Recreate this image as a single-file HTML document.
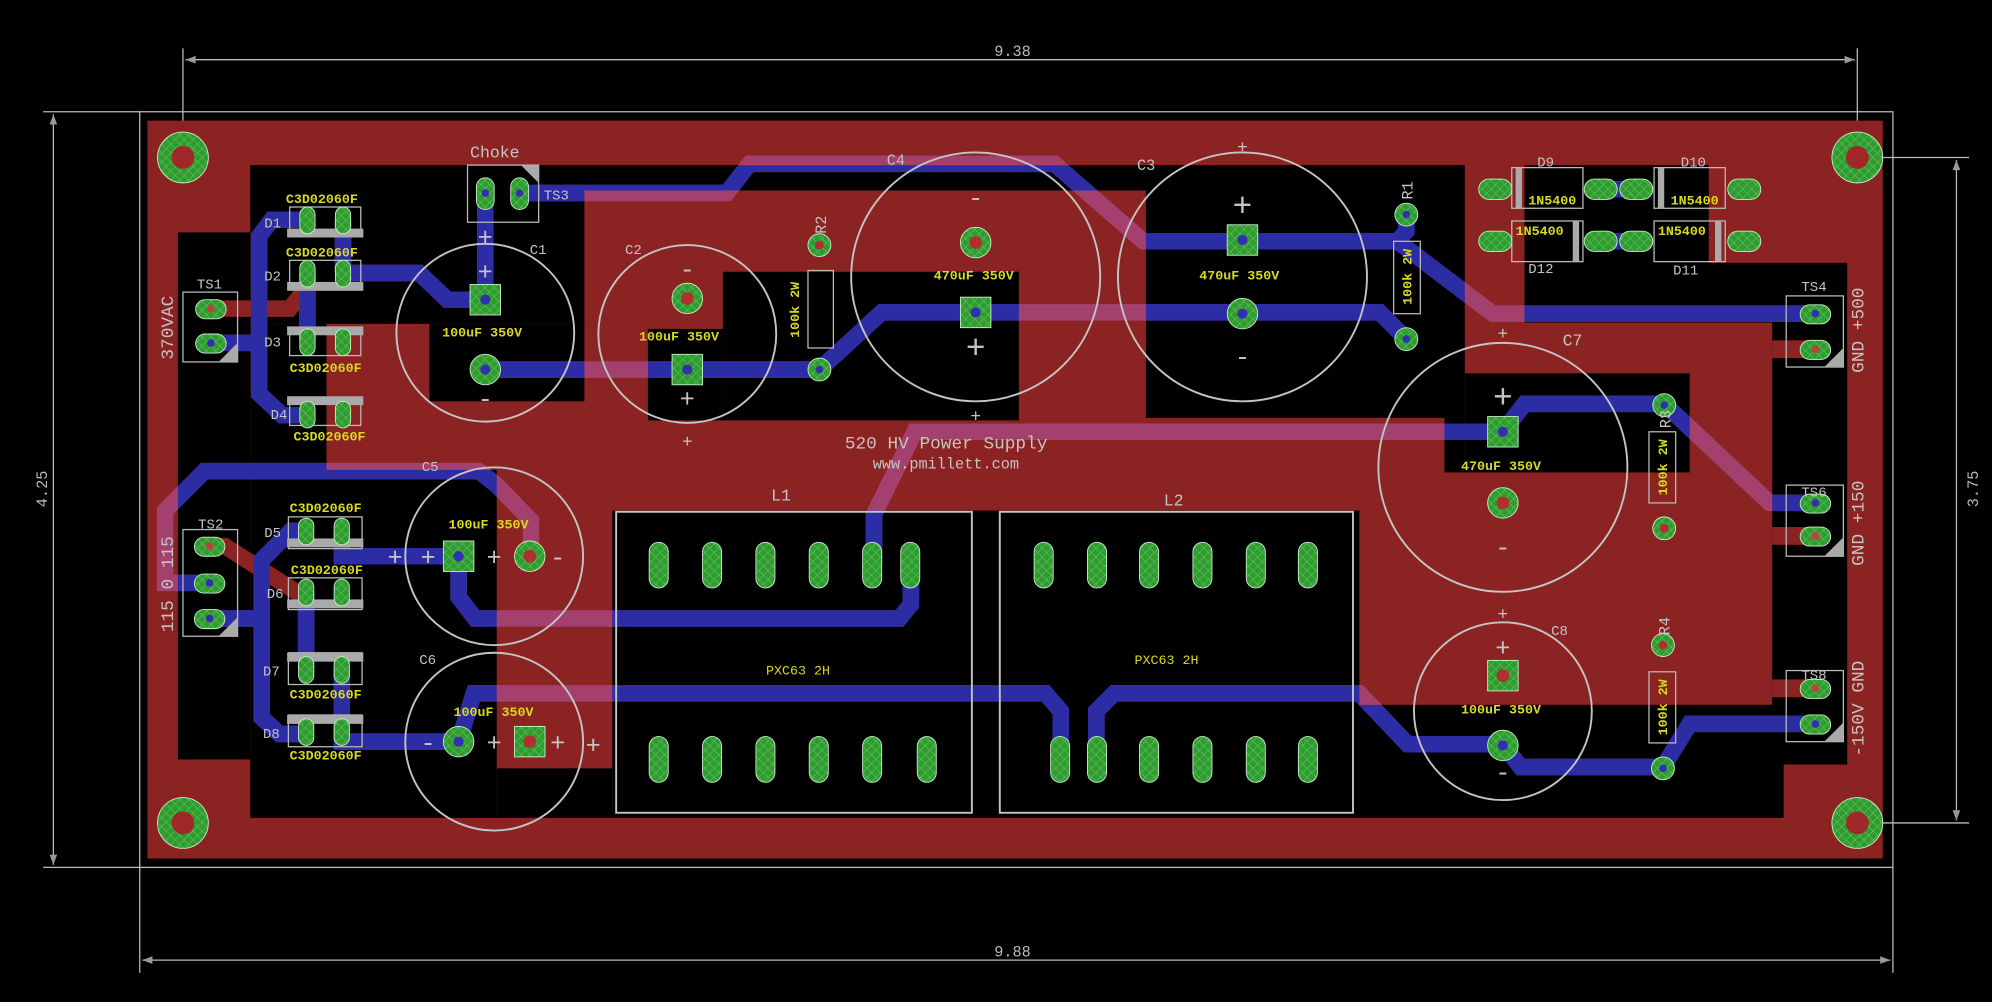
<!DOCTYPE html>
<html><head><meta charset="utf-8"><style>
html,body{margin:0;padding:0;background:#000;}
svg{display:block}
text{font-family:"Liberation Mono","DejaVu Sans Mono",monospace;}
.n{fill:#c4c4c4;font-size:13px}
.v{fill:#d8d820;font-size:10.5px;font-weight:bold}
.p{fill:url(#g);stroke:#c8f0c8;stroke-width:.7}
.o{fill:none;stroke:#c4c4c4;stroke-width:1.5}
.b{fill:none;stroke:#bbb;stroke-width:1}
.dim{stroke:#bbb;stroke-width:1;fill:none}
</style></head><body>
<svg width="1992" height="1002" viewBox="0 0 1568 789" preserveAspectRatio="none" xmlns="http://www.w3.org/2000/svg">
<defs>
<pattern id="g" width="5" height="5" patternUnits="userSpaceOnUse" patternTransform="rotate(45)">
<rect width="5" height="5" fill="#2f9c2f"/><line x1="0" y1="0" x2="0" y2="5" stroke="#6cc36c" stroke-width="0.8"/><line x1="0" y1="0" x2="5" y2="0" stroke="#6cc36c" stroke-width="0.8"/>
</pattern>
<clipPath id="cb">
<rect x="140" y="183" width="57" height="415"/><rect x="197" y="130" width="956" height="20"/><rect x="197" y="150" width="263" height="105"/><rect x="338" y="255" width="122" height="61"/><rect x="197" y="255" width="60" height="115"/><rect x="902" y="150" width="251" height="179"/><rect x="197" y="370" width="194" height="274"/><rect x="391" y="605" width="91" height="39"/><rect x="482" y="402" width="588" height="242"/><rect x="1070" y="555" width="334" height="89"/><rect x="1395" y="254" width="59" height="348"/><rect x="1200" y="207" width="254" height="47"/><rect x="1200" y="130" width="145" height="77"/><rect x="1153" y="294" width="177" height="78"/><rect x="1137" y="329" width="16" height="43"/><rect x="569" y="214" width="233" height="117"/><rect x="510" y="259" width="59" height="72"/>
</clipPath>
<g id="tr" fill="none" stroke-width="13" stroke-linejoin="miter">
<polyline points="409,152 572,152 590,129 830,129 900,190 1100,190 1107,182 1107,169"/>
<polyline points="1100,190 1175,247 1429,247"/>
<polyline points="645,291 694,246 1086,246 1107,267"/>
<polyline points="382,291 645,291"/>
<polyline points="382,152 382,236"/>
<polyline points="270,215 330,215 352,236 382,236"/>
<polyline points="270,173 270,215"/>
<polyline points="242,173 214,173 204,186 204,310 222,327 242,327"/>
<polyline points="166,270 204,270"/>
<polyline points="242,215 242,268"/>
<polyline points="165,459 130,459 130,402 161,371 377,371 391,382 418,410 418,438"/>
<polyline points="206,487 165,487"/>
<polyline points="241,418 229,418 206,441 206,565 220,578 241,578"/>
<polyline points="241,466 241,527"/>
<polyline points="269,418 269,438 361,438"/>
<polyline points="269,527 269,584 361,584"/>
<polyline points="361,438 361,470 374,487 708,487 717,476 717,445"/>
<polyline points="688,445 688,405 720,340 1183,340"/>
<polyline points="1183,340 1200,318 1310,318"/>
<polyline points="1310,318 1393,396 1429,396"/>
<polyline points="361,584 373,546 823,546 835,560 835,598"/>
<polyline points="863,598 863,560 877,546 1070,546 1108,586 1183,586 1197,604 1309,604 1330,570 1429,570"/>
<polyline points="1260,149 1288,149"/>
<polyline points="1260,190 1288,190"/>
</g>
</defs>
<rect width="1568" height="789" fill="#000"/>
<!-- dimensions -->
<g class="dim">
<line x1="144" y1="38" x2="144" y2="124"/><line x1="1462" y1="38" x2="1462" y2="124"/>
<line x1="146" y1="47" x2="1460" y2="47"/>
<line x1="110" y1="683" x2="110" y2="766"/><line x1="1490" y1="683" x2="1490" y2="766"/>
<line x1="112" y1="756" x2="1488" y2="756"/>
<line x1="34" y1="88" x2="110" y2="88"/><line x1="34" y1="683" x2="110" y2="683"/>
<line x1="42" y1="90" x2="42" y2="681"/>
<line x1="1462" y1="124" x2="1550" y2="124"/><line x1="1462" y1="648" x2="1550" y2="648"/>
<line x1="1540" y1="126" x2="1540" y2="646"/>
<rect x="110" y="88" width="1380" height="595"/>
</g>
<g fill="#999"><polygon points="146,47 154,44 154,50"/><polygon points="1460,47 1452,44 1452,50"/><polygon points="112,756 120,753 120,759"/><polygon points="1488,756 1480,753 1480,759"/><polygon points="42,90 39,98 45,98"/><polygon points="42,681 39,673 45,673"/><polygon points="1540,126 1537,134 1543,134"/><polygon points="1540,646 1537,638 1543,638"/></g>
<text x="797" y="44" fill="#bbb" font-size="12" text-anchor="middle" font-family="Liberation Sans">9.38</text>
<text x="797" y="753" fill="#bbb" font-size="12" text-anchor="middle" font-family="Liberation Sans">9.88</text>
<text transform="translate(37,385) rotate(-90)" fill="#bbb" font-size="12" text-anchor="middle" font-family="Liberation Sans">4.25</text>
<text transform="translate(1557,385) rotate(-90)" fill="#bbb" font-size="12" text-anchor="middle" font-family="Liberation Sans">3.75</text>
<!-- board copper -->
<rect x="116" y="95" width="1366" height="581" fill="#8c2323"/>
<g fill="#000">
<rect x="140" y="183" width="57" height="415"/><rect x="197" y="130" width="956" height="20"/><rect x="197" y="150" width="263" height="105"/><rect x="338" y="255" width="122" height="61"/><rect x="197" y="255" width="60" height="115"/><rect x="902" y="150" width="251" height="179"/><rect x="197" y="370" width="194" height="274"/><rect x="391" y="605" width="91" height="39"/><rect x="482" y="402" width="588" height="242"/><rect x="1070" y="555" width="334" height="89"/><rect x="1395" y="254" width="59" height="348"/><rect x="1200" y="207" width="254" height="47"/><rect x="1200" y="130" width="145" height="77"/><rect x="1153" y="294" width="177" height="78"/><rect x="1137" y="329" width="16" height="43"/><rect x="569" y="214" width="233" height="117"/><rect x="510" y="259" width="59" height="72"/>
</g>
<g fill="#8c2323"><rect x="1395" y="268" width="40" height="14"/><rect x="1395" y="415" width="40" height="14"/><rect x="1395" y="535" width="40" height="14"/></g>
<!-- top layer red traces -->
<g fill="none" stroke="#8c2323" stroke-width="13">
<polyline points="166,243 228,243 242,226 242,215"/>
<polyline points="165,430 177,430 233,466 241,466"/>
</g>
<!-- bottom traces -->
<use href="#tr" stroke="#a4406e"/>
<use href="#tr" stroke="#2c2ca4" clip-path="url(#cb)"/>
<!-- mount holes -->
<g>
<circle cx="144" cy="124" r="20" class="p"/><circle cx="144" cy="124" r="9" fill="#a02828"/>
<circle cx="1462" cy="124" r="20" class="p"/><circle cx="1462" cy="124" r="9" fill="#a02828"/>
<circle cx="144" cy="648" r="20" class="p"/><circle cx="144" cy="648" r="9" fill="#a02828"/>
<circle cx="1462" cy="648" r="20" class="p"/><circle cx="1462" cy="648" r="9" fill="#a02828"/>
</g>
<!-- capacitor outlines -->
<circle cx="382" cy="262" r="70" class="o"/>
<circle cx="541" cy="263" r="70" class="o"/>
<circle cx="768" cy="218" r="98" class="o"/>
<circle cx="978" cy="218" r="98" class="o"/>
<circle cx="1183" cy="368" r="98" class="o"/>
<circle cx="1183" cy="560" r="70" class="o"/>
<circle cx="389" cy="438" r="70" class="o"/>
<circle cx="389" cy="584" r="70" class="o"/>
<!-- L boxes -->
<rect x="485" y="403" width="280" height="237" class="o"/>
<rect x="787" y="403" width="278" height="237" class="o"/>
<!-- terminal boxes -->
<g class="b">
<rect x="144" y="230" width="43" height="55"/><rect x="144" y="417" width="43" height="84"/><rect x="368" y="130" width="56" height="45"/>
<rect x="1406" y="233" width="45" height="56"/><rect x="1406" y="382" width="45" height="56"/><rect x="1406" y="528" width="45" height="56"/>
<rect x="1097" y="190" width="21" height="57"/><rect x="636" y="213" width="20" height="61"/><rect x="1298" y="340" width="21" height="56"/><rect x="1298" y="529" width="21" height="56"/>
<rect x="1190" y="132" width="56" height="32"/><rect x="1302" y="132" width="56" height="32"/><rect x="1190" y="174" width="56" height="32"/><rect x="1302" y="174" width="56" height="32"/>
<rect x="228" y="163" width="56" height="21"/><rect x="228" y="205" width="56" height="21"/><rect x="228" y="259" width="56" height="21"/><rect x="228" y="314" width="56" height="21"/>
<rect x="227" y="407" width="58" height="25"/><rect x="227" y="455" width="58" height="25"/><rect x="227" y="514" width="58" height="25"/><rect x="227" y="563" width="58" height="25"/>
</g>
<g fill="#aaa">
<rect x="226" y="180" width="60" height="7"/><rect x="226" y="222" width="60" height="7"/><rect x="226" y="257" width="60" height="7"/><rect x="226" y="312" width="60" height="7"/>
<rect x="226" y="424" width="60" height="7"/><rect x="226" y="472" width="60" height="7"/><rect x="226" y="514" width="60" height="7"/><rect x="226" y="563" width="60" height="7"/>
<rect x="1193" y="132" width="5" height="32"/><rect x="1305" y="132" width="5" height="32"/><rect x="1238" y="174" width="5" height="32"/><rect x="1350" y="174" width="5" height="32"/>
<polygon points="187,270 187,285 172,285"/><polygon points="187,486 187,501 172,501"/><polygon points="424,130 424,144 410,130"/>
<polygon points="1451,274 1451,289 1436,289"/><polygon points="1451,423 1451,438 1436,438"/><polygon points="1451,569 1451,584 1436,584"/>
</g>
<!-- pads -->
<g>
<!-- TS pads -->
<rect x="154" y="236" width="24" height="15" rx="7.5" class="p"/><circle cx="166" cy="243" r="3" fill="#c04040"/>
<rect x="154" y="263" width="24" height="15" rx="7.5" class="p"/><circle cx="166" cy="270" r="3" fill="#3030b0"/>
<rect x="153" y="423" width="24" height="15" rx="7.5" class="p"/><circle cx="165" cy="430" r="3" fill="#c04040"/>
<rect x="153" y="452" width="24" height="15" rx="7.5" class="p"/><circle cx="165" cy="459" r="3" fill="#3030b0"/>
<rect x="153" y="480" width="24" height="15" rx="7.5" class="p"/><circle cx="165" cy="487" r="3" fill="#3030b0"/>
<rect x="1417" y="240" width="24" height="15" rx="7.5" class="p"/><circle cx="1429" cy="247" r="3" fill="#3030b0"/>
<rect x="1417" y="268" width="24" height="15" rx="7.5" class="p"/><circle cx="1429" cy="275" r="3" fill="#c04040"/>
<rect x="1417" y="389" width="24" height="15" rx="7.5" class="p"/><circle cx="1429" cy="396" r="3" fill="#3030b0"/>
<rect x="1417" y="415" width="24" height="15" rx="7.5" class="p"/><circle cx="1429" cy="422" r="3" fill="#c04040"/>
<rect x="1417" y="535" width="24" height="15" rx="7.5" class="p"/><circle cx="1429" cy="542" r="3" fill="#c04040"/>
<rect x="1417" y="563" width="24" height="15" rx="7.5" class="p"/><circle cx="1429" cy="570" r="3" fill="#3030b0"/>
<!-- TS3 -->
<rect x="375" y="140" width="14" height="25" rx="7" class="p"/><circle cx="382" cy="152" r="3" fill="#3030b0"/>
<rect x="402" y="140" width="14" height="25" rx="7" class="p"/><circle cx="409" cy="152" r="3" fill="#3030b0"/>
<!-- diode pads D1-D8 -->
<g fill="#3030b0">
<rect x="236" y="163" width="12" height="21" rx="6" class="p"/><rect x="264" y="163" width="12" height="21" rx="6" class="p"/>
<rect x="236" y="205" width="12" height="21" rx="6" class="p"/><rect x="264" y="205" width="12" height="21" rx="6" class="p"/>
<rect x="236" y="259" width="12" height="21" rx="6" class="p"/><rect x="264" y="259" width="12" height="21" rx="6" class="p"/>
<rect x="236" y="316" width="12" height="21" rx="6" class="p"/><rect x="264" y="316" width="12" height="21" rx="6" class="p"/>
<rect x="235" y="408" width="12" height="21" rx="6" class="p"/><rect x="263" y="408" width="12" height="21" rx="6" class="p"/>
<rect x="235" y="456" width="12" height="21" rx="6" class="p"/><rect x="263" y="456" width="12" height="21" rx="6" class="p"/>
<rect x="235" y="517" width="12" height="21" rx="6" class="p"/><rect x="263" y="517" width="12" height="21" rx="6" class="p"/>
<rect x="235" y="566" width="12" height="21" rx="6" class="p"/><rect x="263" y="566" width="12" height="21" rx="6" class="p"/>
</g>
<!-- D9-D12 pads -->
<g>
<rect x="1164" y="141" width="26" height="16" rx="8" class="p"/><rect x="1247" y="141" width="26" height="16" rx="8" class="p"/><rect x="1275" y="141" width="26" height="16" rx="8" class="p"/><rect x="1360" y="141" width="26" height="16" rx="8" class="p"/>
<rect x="1164" y="182" width="26" height="16" rx="8" class="p"/><rect x="1247" y="182" width="26" height="16" rx="8" class="p"/><rect x="1275" y="182" width="26" height="16" rx="8" class="p"/><rect x="1360" y="182" width="26" height="16" rx="8" class="p"/>
</g>
<!-- capacitor pads -->
<rect x="370" y="224" width="24" height="24" class="p"/><circle cx="382" cy="236" r="4" fill="#3030b0"/>
<circle cx="382" cy="291" r="12" class="p"/><circle cx="382" cy="291" r="4" fill="#3030b0"/>
<circle cx="541" cy="235" r="12" class="p"/><circle cx="541" cy="235" r="5" fill="#b03030"/>
<rect x="529" y="279" width="24" height="24" class="p"/><circle cx="541" cy="291" r="4" fill="#3030b0"/>
<circle cx="768" cy="191" r="12" class="p"/><circle cx="768" cy="191" r="5" fill="#b03030"/>
<rect x="756" y="234" width="24" height="24" class="p"/><circle cx="768" cy="246" r="4" fill="#3030b0"/>
<rect x="966" y="177" width="24" height="24" class="p"/><circle cx="978" cy="189" r="4" fill="#3030b0"/>
<circle cx="978" cy="247" r="12" class="p"/><circle cx="978" cy="247" r="4" fill="#3030b0"/>
<rect x="1171" y="328" width="24" height="24" class="p"/><circle cx="1183" cy="340" r="4" fill="#3030b0"/>
<circle cx="1183" cy="396" r="12" class="p"/><circle cx="1183" cy="396" r="5" fill="#b03030"/>
<rect x="1171" y="520" width="24" height="24" class="p"/><circle cx="1183" cy="532" r="5" fill="#b03030"/>
<circle cx="1183" cy="587" r="12" class="p"/><circle cx="1183" cy="587" r="4" fill="#3030b0"/>
<rect x="349" y="426" width="24" height="24" class="p"/><circle cx="361" cy="438" r="4" fill="#3030b0"/>
<circle cx="417" cy="438" r="12" class="p"/><circle cx="417" cy="438" r="5" fill="#b03030"/>
<circle cx="361" cy="584" r="12" class="p"/><circle cx="361" cy="584" r="4" fill="#3030b0"/>
<rect x="405" y="572" width="24" height="24" class="p"/><circle cx="417" cy="584" r="5" fill="#b03030"/>
<!-- resistor pads -->
<circle cx="1107" cy="169" r="9" class="p"/><circle cx="1107" cy="169" r="3" fill="#3030b0"/>
<circle cx="1107" cy="267" r="9" class="p"/><circle cx="1107" cy="267" r="3" fill="#3030b0"/>
<circle cx="645" cy="193" r="9" class="p"/><circle cx="645" cy="193" r="3.5" fill="#b03030"/>
<circle cx="645" cy="291" r="9" class="p"/><circle cx="645" cy="291" r="3" fill="#3030b0"/>
<circle cx="1310" cy="319" r="9" class="p"/><circle cx="1310" cy="319" r="3" fill="#3030b0"/>
<circle cx="1310" cy="416" r="9" class="p"/><circle cx="1310" cy="416" r="3.5" fill="#b03030"/>
<circle cx="1309" cy="508" r="9" class="p"/><circle cx="1309" cy="508" r="3.5" fill="#b03030"/>
<circle cx="1309" cy="605" r="9" class="p"/><circle cx="1309" cy="605" r="3" fill="#3030b0"/>
<!-- L pads -->
<g>
<rect x="511" y="427" width="15" height="36" rx="7.5" class="p"/><rect x="553" y="427" width="15" height="36" rx="7.5" class="p"/><rect x="595" y="427" width="15" height="36" rx="7.5" class="p"/><rect x="637" y="427" width="15" height="36" rx="7.5" class="p"/><rect x="679" y="427" width="15" height="36" rx="7.5" class="p"/><rect x="709" y="427" width="15" height="36" rx="7.5" class="p"/>
<rect x="511" y="580" width="15" height="36" rx="7.5" class="p"/><rect x="553" y="580" width="15" height="36" rx="7.5" class="p"/><rect x="595" y="580" width="15" height="36" rx="7.5" class="p"/><rect x="637" y="580" width="15" height="36" rx="7.5" class="p"/><rect x="679" y="580" width="15" height="36" rx="7.5" class="p"/><rect x="722" y="580" width="15" height="36" rx="7.5" class="p"/>
<rect x="814" y="427" width="15" height="36" rx="7.5" class="p"/><rect x="856" y="427" width="15" height="36" rx="7.5" class="p"/><rect x="897" y="427" width="15" height="36" rx="7.5" class="p"/><rect x="939" y="427" width="15" height="36" rx="7.5" class="p"/><rect x="981" y="427" width="15" height="36" rx="7.5" class="p"/><rect x="1022" y="427" width="15" height="36" rx="7.5" class="p"/>
<rect x="827" y="580" width="15" height="36" rx="7.5" class="p"/><rect x="856" y="580" width="15" height="36" rx="7.5" class="p"/><rect x="897" y="580" width="15" height="36" rx="7.5" class="p"/><rect x="939" y="580" width="15" height="36" rx="7.5" class="p"/><rect x="981" y="580" width="15" height="36" rx="7.5" class="p"/><rect x="1022" y="580" width="15" height="36" rx="7.5" class="p"/>
</g>
</g>
<!-- capacitor polarity marks -->
<g fill="#c4c4c4" font-size="20" text-anchor="middle" font-family="Liberation Sans">
<text x="382" y="193">+</text><text x="382" y="220">+</text><text x="382" y="320">-</text>
<text x="541" y="218">-</text><text x="541" y="320">+</text><text x="541" y="352" font-size="14">+</text>
<text x="768" y="162">-</text><text x="768" y="282" font-size="26">+</text><text x="768" y="332" font-size="14">+</text>
<text x="978" y="170" font-size="26">+</text><text x="978" y="287">-</text><text x="978" y="120" font-size="14">+</text>
<text x="1183" y="321" font-size="26">+</text><text x="1183" y="437">-</text><text x="1183" y="267" font-size="14">+</text>
<text x="1183" y="516">+</text><text x="1183" y="614">-</text><text x="1183" y="488" font-size="14">+</text>
<text x="311" y="445">+</text><text x="337" y="445">+</text><text x="389" y="445">+</text><text x="439" y="445">-</text>
<text x="337" y="591">-</text><text x="389" y="591">+</text><text x="439" y="591">+</text><text x="467" y="593">+</text>
</g>
<!-- labels -->
<g class="n">
<text x="370" y="124">Choke</text>
<text x="428" y="157" font-size="11">TS3</text>
<text x="155" y="227" font-size="11">TS1</text>
<text x="156" y="416" font-size="11">TS2</text>
<text x="1418" y="229" font-size="11">TS4</text>
<text x="1418" y="391" font-size="11">TS6</text>
<text x="1418" y="535" font-size="11">TS8</text>
<text x="417" y="200" font-size="11">C1</text>
<text x="492" y="200" font-size="11">C2</text>
<text x="698" y="130" font-size="12">C4</text>
<text x="895" y="134" font-size="12">C3</text>
<text x="1230" y="272" font-size="13">C7</text>
<text x="1221" y="500" font-size="11">C8</text>
<text x="332" y="371" font-size="11">C5</text>
<text x="330" y="523" font-size="11">C6</text>
<text x="607" y="394" font-size="13">L1</text>
<text x="916" y="398" font-size="13">L2</text>
<text x="1210" y="131" font-size="11">D9</text>
<text x="1323" y="131" font-size="11">D10</text>
<text x="1203" y="215" font-size="11">D12</text>
<text x="1317" y="216" font-size="11">D11</text>
<text x="208" y="179" font-size="11">D1</text><text x="208" y="221" font-size="11">D2</text><text x="208" y="273" font-size="11">D3</text><text x="213" y="330" font-size="11">D4</text>
<text x="208" y="423" font-size="11">D5</text><text x="210" y="471" font-size="11">D6</text><text x="207" y="532" font-size="11">D7</text><text x="207" y="581" font-size="11">D8</text>
<text x="665" y="353" font-size="14">520 HV Power Supply</text>
<text x="687" y="369" font-size="12">www.pmillett.com</text>
<text transform="translate(136,258) rotate(-90)" text-anchor="middle" font-size="14">370VAC</text>
<text transform="translate(136,460) rotate(-90)" text-anchor="middle" font-size="14">115 0 115</text>
<text transform="translate(1467,260) rotate(-90)" text-anchor="middle" font-size="14">GND +500</text>
<text transform="translate(1467,412) rotate(-90)" text-anchor="middle" font-size="14">GND +150</text>
<text transform="translate(1467,558) rotate(-90)" text-anchor="middle" font-size="14">-150V GND</text>
<text transform="translate(1112,150) rotate(-90)" text-anchor="middle" font-size="12">R1</text>
<text transform="translate(650,177) rotate(-90)" text-anchor="middle" font-size="12">R2</text>
<text transform="translate(1315,330) rotate(-90)" text-anchor="middle" font-size="12">R3</text>
<text transform="translate(1314,493) rotate(-90)" text-anchor="middle" font-size="12">R4</text>
</g>
<g class="v">
<text x="225" y="160">C3D02060F</text><text x="225" y="202">C3D02060F</text><text x="228" y="293">C3D02060F</text><text x="231" y="347">C3D02060F</text>
<text x="228" y="403">C3D02060F</text><text x="229" y="452">C3D02060F</text><text x="228" y="550">C3D02060F</text><text x="228" y="598">C3D02060F</text>
<text x="348" y="265">100uF 350V</text>
<text x="503" y="268">100uF 350V</text>
<text x="735" y="220">470uF 350V</text>
<text x="944" y="220">470uF 350V</text>
<text x="1150" y="370">470uF 350V</text>
<text x="1150" y="562">100uF 350V</text>
<text x="353" y="416">100uF 350V</text>
<text x="357" y="564">100uF 350V</text>
<text x="603" y="531" font-weight="normal">PXC63 2H</text>
<text x="893" y="523" font-weight="normal">PXC63 2H</text>
<text x="1203" y="161">1N5400</text><text x="1315" y="161">1N5400</text><text x="1193" y="185">1N5400</text><text x="1305" y="185">1N5400</text>
<text transform="translate(1111,218) rotate(-90)" text-anchor="middle">100k 2W</text>
<text transform="translate(629,244) rotate(-90)" text-anchor="middle">100k 2W</text>
<text transform="translate(1312,368) rotate(-90)" text-anchor="middle">100k 2W</text>
<text transform="translate(1312,557) rotate(-90)" text-anchor="middle">100k 2W</text>
</g>
</svg>
</body></html>
